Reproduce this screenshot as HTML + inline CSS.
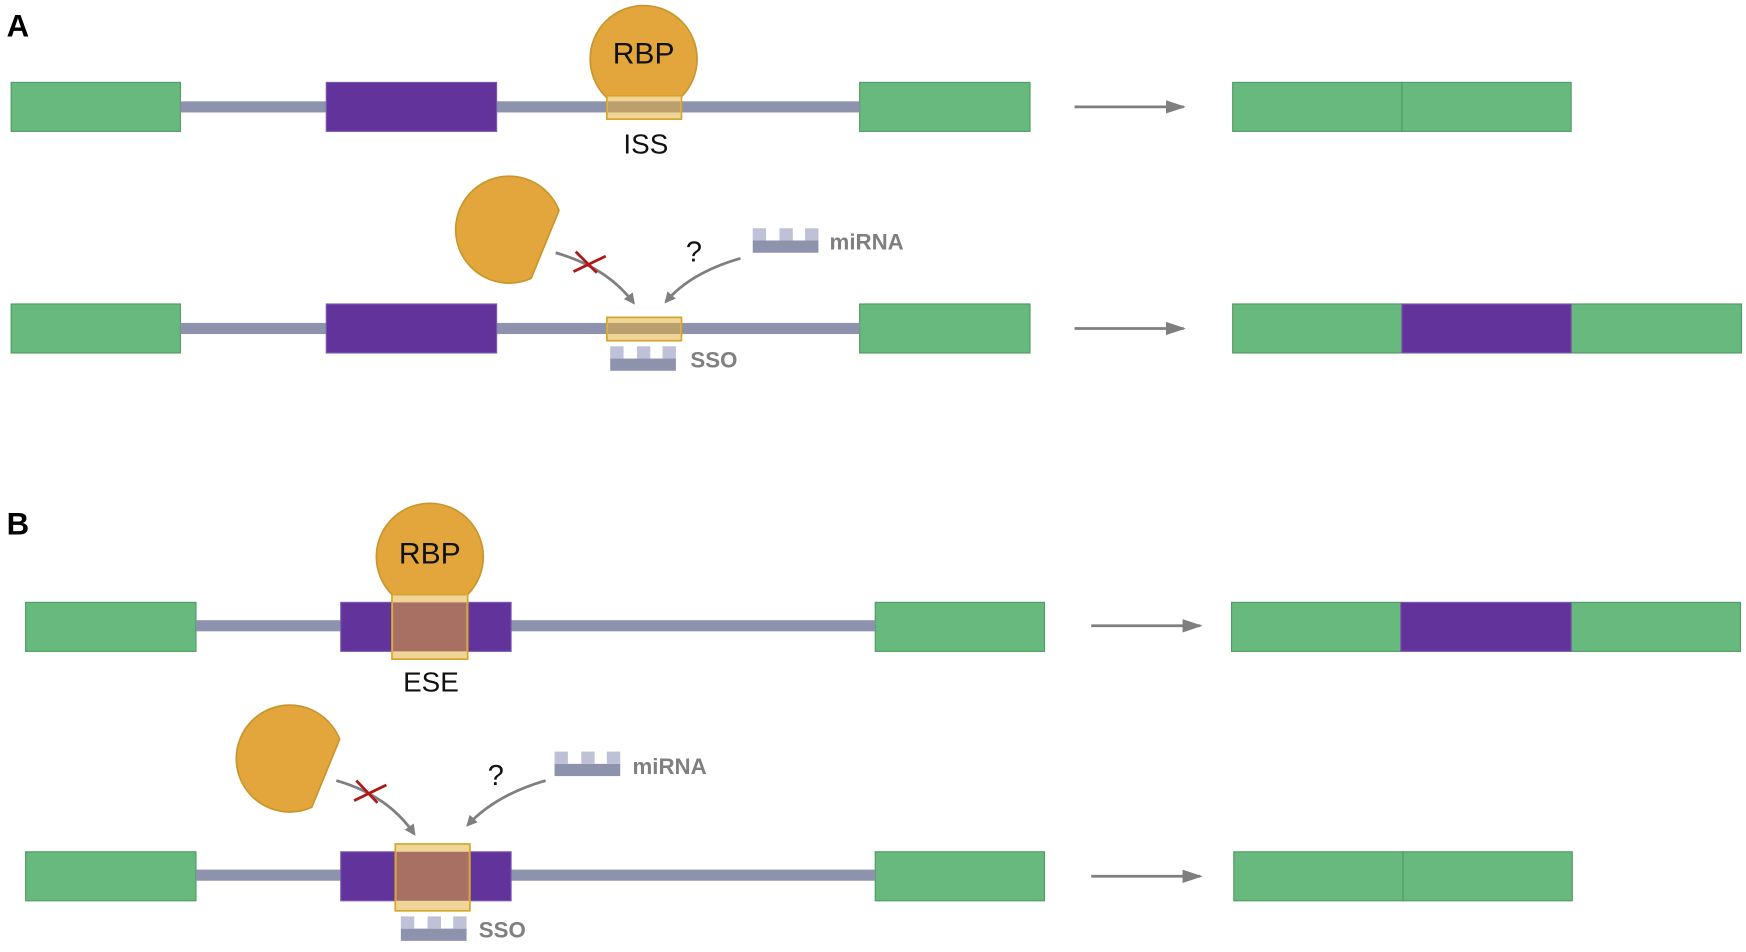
<!DOCTYPE html>
<html><head><style>html,body{margin:0;padding:0;background:#fff}svg{display:block}</style></head><body>
<svg width="1746" height="952" viewBox="0 0 1568 855" preserveAspectRatio="none" xmlns="http://www.w3.org/2000/svg" font-family="Liberation Sans, sans-serif">
<defs>
<marker id="ah" markerWidth="10" markerHeight="10" refX="8" refY="5" orient="auto" markerUnits="userSpaceOnUse"><path d="M0,0 L10,5 L0,10 z" fill="#7f7f7f"/></marker>
<marker id="ab" markerWidth="18" markerHeight="12" refX="16" refY="6" orient="auto" markerUnits="userSpaceOnUse"><path d="M0,0 L18,6 L0,12 z" fill="#7f7f7f"/></marker>
<g id="cut"><path d="M46,-17 A48,48 0 1 0 21,44 Z" fill="#e3a63d" stroke="#c8962c" stroke-width="1.5"/></g>
<g id="oligo"><rect x="0" y="11" width="59" height="11" fill="#8e93ad"/><rect x="0" y="0" width="12" height="11" fill="#bfc2d6"/><rect x="24" y="0" width="12" height="11" fill="#bfc2d6"/><rect x="47" y="0" width="12" height="11" fill="#bfc2d6"/></g>
</defs>
<g fill="#67b97d" stroke="#4f9a64" stroke-width="1">
<rect x="10" y="74" width="152" height="44"/><rect x="772" y="74" width="153" height="44"/>
<rect x="10" y="273" width="152" height="44"/><rect x="772" y="273" width="153" height="44"/>
<rect x="23" y="541" width="153" height="44"/><rect x="786" y="541" width="152" height="44"/>
<rect x="23" y="765" width="153" height="44"/><rect x="786" y="765" width="152" height="44"/>
<rect x="1107" y="74" width="152" height="44"/><rect x="1259" y="74" width="152" height="44"/>
<rect x="1107" y="273" width="152" height="44"/><rect x="1411" y="273" width="153" height="44"/>
<rect x="1106" y="541" width="152" height="44"/><rect x="1411" y="541" width="152" height="44"/>
<rect x="1108" y="765" width="152" height="44"/><rect x="1260" y="765" width="152" height="44"/>
</g>
<g fill="#8e93ad">
<rect x="162" y="91" width="131" height="10"/><rect x="446" y="91" width="326" height="10"/>
<rect x="162" y="290" width="131" height="10"/><rect x="446" y="290" width="326" height="10"/>
<rect x="176" y="557" width="130" height="10"/><rect x="459" y="557" width="327" height="10"/>
<rect x="176" y="781" width="130" height="10"/><rect x="459" y="781" width="327" height="10"/>
</g>
<g fill="#62339a" stroke="#7a5ab0" stroke-width="1">
<rect x="293" y="74" width="153" height="44"/><rect x="293" y="273" width="153" height="44"/>
<rect x="306" y="541" width="153" height="44"/><rect x="306" y="765" width="153" height="44"/>
<rect x="1259" y="273" width="152" height="44"/><rect x="1258" y="541" width="153" height="44"/>
</g>
<circle cx="578" cy="53" r="48" fill="#e3a63d" stroke="#c8962c" stroke-width="1.5"/>
<circle cx="386" cy="500" r="48" fill="#e3a63d" stroke="#c8962c" stroke-width="1.5"/>
<rect x="545" y="86" width="67" height="21" fill="#f1d597" stroke="#d4a52a" stroke-width="1.5"/>
<rect x="546" y="91" width="65" height="10" fill="#bba06e"/>
<rect x="545" y="285" width="67" height="21" fill="#f1d597" stroke="#d4a52a" stroke-width="1.5"/>
<rect x="546" y="290" width="65" height="10" fill="#bba06e"/>
<rect x="352" y="534" width="68" height="58" fill="#f1d597" stroke="#d4a52a" stroke-width="1.5"/>
<rect x="353" y="541" width="66" height="44" fill="#a87062"/>
<rect x="355" y="758" width="67" height="60" fill="#f1d597" stroke="#d4a52a" stroke-width="1.5"/>
<rect x="356" y="765" width="65" height="44" fill="#a87062"/>
<text x="578" y="57" font-size="27" text-anchor="middle" fill="#111">RBP</text>
<text x="386" y="506" font-size="27" text-anchor="middle" fill="#111">RBP</text>
<text x="580" y="138" font-size="25" text-anchor="middle" fill="#111">ISS</text>
<text x="387" y="621" font-size="25" text-anchor="middle" fill="#111">ESE</text>
<text x="6" y="33" font-size="28" font-weight="bold">A</text>
<text x="6" y="480" font-size="28" font-weight="bold">B</text>
<use href="#cut" x="456" y="206"/><use href="#cut" x="259" y="681"/>
<use href="#oligo" x="548" y="311"/><use href="#oligo" x="676" y="205"/>
<use href="#oligo" x="360" y="823"/><use href="#oligo" x="498" y="675"/>
<g fill="#7f7f7f" font-weight="bold" font-size="20">
<text x="620" y="330">SSO</text><text x="745" y="224">miRNA</text>
<text x="430" y="842">SSO</text><text x="568" y="695">miRNA</text>
</g>
<g font-size="26" fill="#111"><text x="616" y="235">?</text><text x="438" y="705">?</text></g>
<g fill="none" stroke="#7f7f7f" stroke-width="2.5">
<path d="M499,227 Q545,240 569,272" marker-end="url(#ah)"/>
<path d="M665,232 Q620,245 598,271" marker-end="url(#ah)"/>
<path d="M302,701 Q348,714 372,749" marker-end="url(#ah)"/>
<path d="M490,701 Q445,714 420,741" marker-end="url(#ah)"/>
<path d="M965,96 H1063" marker-end="url(#ab)"/>
<path d="M965,295 H1063" marker-end="url(#ab)"/>
<path d="M980,562 H1078" marker-end="url(#ab)"/>
<path d="M980,787 H1078" marker-end="url(#ab)"/>
</g>
<g stroke="#b01818" stroke-width="2.5">
<path d="M517,226 L536,245"/><path d="M515,244 L544,230"/>
<path d="M320,701 L339,721"/><path d="M318,719 L347,705"/>
</g>
</svg>
</body></html>
